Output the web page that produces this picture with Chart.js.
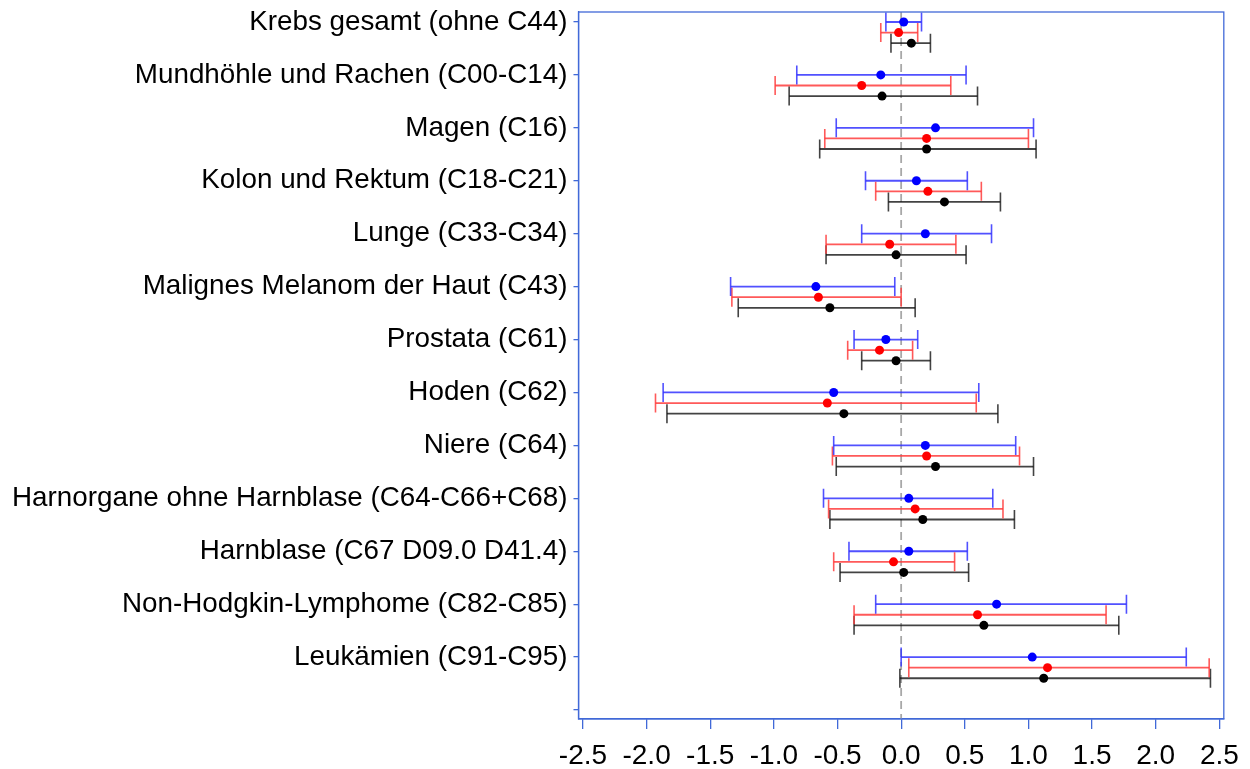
<!DOCTYPE html>
<html>
<head>
<meta charset="utf-8">
<script src="https://cdn.jsdelivr.net/npm/chart.js@4/dist/chart.umd.min.js"></script>
<style>
  html, body { margin: 0; background: #fff; }
  #wrap { width: 1250px; height: 769px; }
</style>
</head>
<body>
<div id="wrap"><canvas id="forestChart"></canvas></div>
<script>
// Kategorien (von oben nach unten)
const categories = [
  'Krebs gesamt (ohne C44)',
  'Mundhöhle und Rachen (C00-C14)',
  'Magen (C16)',
  'Kolon und Rektum (C18-C21)',
  'Lunge (C33-C34)',
  'Malignes Melanom der Haut (C43)',
  'Prostata (C61)',
  'Hoden (C62)',
  'Niere (C64)',
  'Harnorgane ohne Harnblase (C64-C66+C68)',
  'Harnblase (C67 D09.0 D41.4)',
  'Non-Hodgkin-Lymphome (C82-C85)',
  'Leukämien (C91-C95)'
];

// Serie 1 (blau)
const blueEst = [0.02, -0.16, 0.27, 0.12, 0.19, -0.67, -0.12, -0.53, 0.19, 0.06, 0.06, 0.75, 1.03];
const blueLo  = [-0.12, -0.82, -0.51, -0.28, -0.31, -1.34, -0.37, -1.87, -0.53, -0.61, -0.41, -0.20, 0.00];
const blueHi  = [0.16, 0.51, 1.04, 0.52, 0.71, -0.05, 0.13, 0.61, 0.90, 0.72, 0.52, 1.77, 2.24];

// Serie 2 (rot)
const redEst = [-0.02, -0.31, 0.20, 0.21, -0.09, -0.65, -0.17, -0.58, 0.20, 0.11, -0.06, 0.60, 1.15];
const redLo  = [-0.16, -0.99, -0.60, -0.20, -0.59, -1.33, -0.42, -1.93, -0.54, -0.57, -0.53, -0.37, 0.06];
const redHi  = [0.13, 0.39, 1.00, 0.63, 0.43, 0.00, 0.09, 0.59, 0.93, 0.80, 0.42, 1.61, 2.42];

// Serie 3 (schwarz)
const blackEst = [0.08, -0.15, 0.20, 0.34, -0.04, -0.56, -0.04, -0.45, 0.27, 0.17, 0.02, 0.65, 1.12];
const blackLo  = [-0.08, -0.88, -0.64, -0.10, -0.59, -1.28, -0.31, -1.84, -0.51, -0.56, -0.48, -0.37, -0.01];
const blackHi  = [0.23, 0.60, 1.06, 0.78, 0.51, 0.11, 0.23, 0.76, 1.04, 0.89, 0.53, 1.71, 2.43];

const xTicks = [-2.5, -2.0, -1.5, -1.0, -0.5, 0.0, 0.5, 1.0, 1.5, 2.0, 2.5];

const frameBlue = '#4169d8';

const series = [
  { name: 'Serie 1', est: blueEst, lo: blueLo, hi: blueHi, dot: '#0000ff', line: 'rgba(50,50,255,0.85)', offset: 0 },
  { name: 'Serie 2', est: redEst, lo: redLo, hi: redHi, dot: '#ff0000', line: 'rgba(255,60,60,0.85)', offset: 0.2 },
  { name: 'Serie 3', est: blackEst, lo: blackLo, hi: blackHi, dot: '#000000', line: 'rgba(20,20,20,0.8)', offset: 0.4 }
];

const datasets = [];
series.forEach(s => {
  // horizontale Linien (Konfidenzintervall)
  datasets.push({
    label: s.name + ' KI',
    data: categories.flatMap((c, i) => [
      { x: s.lo[i], y: i + s.offset },
      { x: s.hi[i], y: i + s.offset },
      { x: null, y: null }
    ]),
    showLine: true,
    spanGaps: false,
    borderColor: s.line,
    borderWidth: 1.8,
    pointRadius: 0,
    order: 3
  });
  // Endstriche
  datasets.push({
    label: s.name + ' Enden',
    data: categories.flatMap((c, i) => [
      { x: s.lo[i], y: i + s.offset },
      { x: s.hi[i], y: i + s.offset }
    ]),
    pointStyle: 'line',
    rotation: 90,
    pointRadius: 9.5,
    pointBorderColor: s.line,
    pointBorderWidth: 1.6,
    borderColor: s.line,
    order: 2
  });
  // Schätzer
  datasets.push({
    label: s.name,
    data: categories.map((c, i) => ({ x: s.est[i], y: i + s.offset })),
    pointStyle: 'circle',
    pointRadius: 4.5,
    pointBackgroundColor: s.dot,
    pointBorderColor: s.dot,
    pointBorderWidth: 0,
    order: 1
  });
});

const framePlugin = {
  id: 'frame',
  beforeDatasetsDraw(chart) {
    const { ctx, chartArea: a, scales } = chart;
    const x0 = scales.x.getPixelForValue(0);
    ctx.save();
    ctx.strokeStyle = '#a8a8a8';
    ctx.lineWidth = 1.8;
    ctx.setLineDash([8, 5]);
    ctx.beginPath();
    ctx.moveTo(x0, a.top);
    ctx.lineTo(x0, a.bottom);
    ctx.stroke();
    ctx.restore();
  },
  afterDraw(chart) {
    const { ctx, chartArea: a } = chart;
    ctx.save();
    ctx.strokeStyle = frameBlue;
    ctx.lineWidth = 1.3;
    ctx.strokeRect(a.left, a.top, a.right - a.left, a.bottom - a.top);
    ctx.restore();
  }
};

new Chart(document.getElementById('forestChart'), {
  type: 'scatter',
  data: { datasets },
  options: {
    responsive: true,
    maintainAspectRatio: false,
    animation: false,
    layout: { padding: { left: 6, right: 26, top: 12, bottom: 0 } },
    plugins: {
      legend: { display: false },
      tooltip: { enabled: false }
    },
    scales: {
      x: {
        type: 'linear',
        position: 'bottom',
        min: -2.535,
        max: 2.535,
        afterBuildTicks: scale => { scale.ticks = xTicks.map(v => ({ value: v })); },
        afterFit: scale => { scale.height = 50; },
        ticks: {
          color: '#000',
          font: { family: 'Liberation Sans', size: 28, lineHeight: 1.15 },
          padding: 11,
          maxRotation: 0,
          autoSkip: false,
          callback: v => Number(v).toFixed(1)
        },
        grid: { drawOnChartArea: false, drawTicks: true, tickLength: 10, color: frameBlue, lineWidth: 1.3 },
        border: { color: frameBlue, width: 1.3 }
      },
      y: {
        type: 'linear',
        reverse: true,
        min: -0.189,
        max: 13.17,
        afterBuildTicks: scale => { scale.ticks = categories.map((c, i) => ({ value: i })).concat([{ value: categories.length }]); },
        afterFit: scale => { scale.paddingTop = 0; scale.paddingBottom = 0; },
        ticks: {
          color: '#000',
          font: { family: 'Liberation Sans', size: 27.8 },
          padding: 6,
          autoSkip: false,
          callback: v => categories[v] ?? ''
        },
        grid: { drawOnChartArea: false, drawTicks: true, tickLength: 5, color: frameBlue, lineWidth: 1.3 },
        border: { color: frameBlue, width: 1.3 }
      }
    }
  },
  plugins: [framePlugin]
});
</script>
</body>
</html>
